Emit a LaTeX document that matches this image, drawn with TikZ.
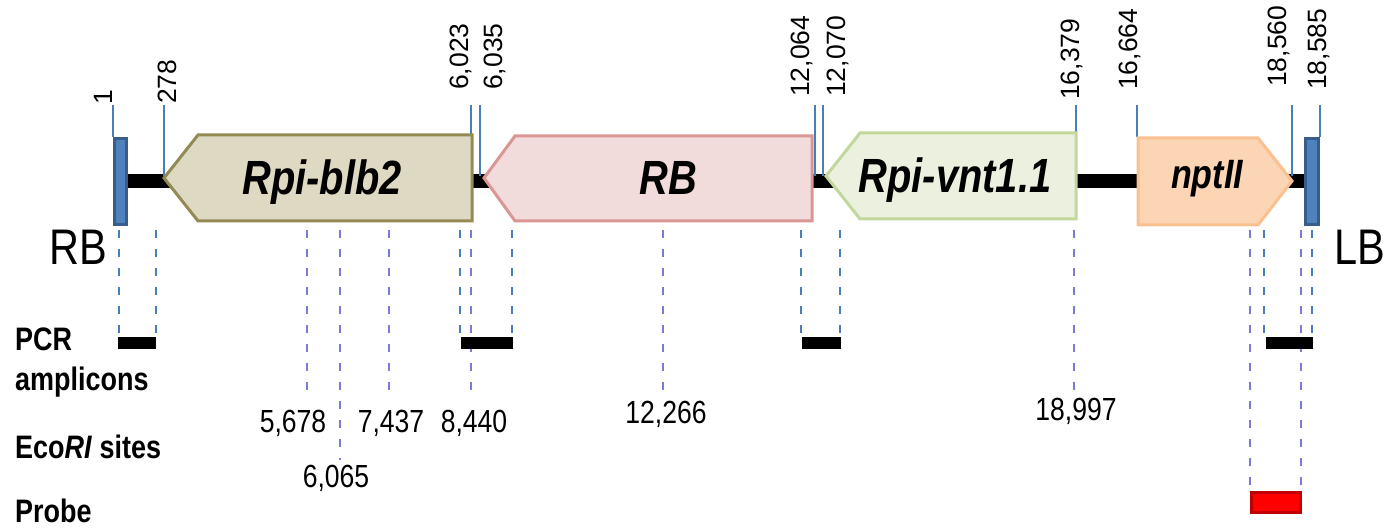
\documentclass[tikz,border=0pt]{standalone}
\usepackage{fontspec}
\setmainfont{Liberation Sans}[FakeStretch=0.83]
\newfontfamily\tickfont{Liberation Sans}
\definecolor{tickblue}{HTML}{4A7EBB}
\definecolor{ecopurple}{HTML}{7B7BD6}
\definecolor{bordfill}{HTML}{4F81BD}
\definecolor{borddraw}{HTML}{385D8A}
\definecolor{blbfill}{HTML}{DDD9C3}
\definecolor{blbdraw}{HTML}{948A54}
\definecolor{rbfill}{HTML}{F2DCDB}
\definecolor{rbdraw}{HTML}{D99694}
\definecolor{vntfill}{HTML}{EBF1DE}
\definecolor{vntdraw}{HTML}{C3D69B}
\definecolor{nptfill}{HTML}{FCD5B5}
\definecolor{nptdraw}{HTML}{FAC090}
\definecolor{probefill}{HTML}{FF0000}
\definecolor{probedraw}{HTML}{C00000}
\tikzset{
  tickline/.style={draw=tickblue, line width=1.3pt},
  pcrdash/.style={draw=tickblue, line width=2pt, dash pattern=on 8pt off 11pt},
  ecodash/.style={draw=ecopurple, line width=2pt, dash pattern=on 8pt off 11pt},
  ticklabel/.style={rotate=90, anchor=base west, inner sep=0pt, font=\tickfont\fontsize{26.5}{30}\selectfont},
  sitelabel/.style={anchor=base, inner sep=0pt, font=\fontsize{32}{36}\selectfont},
  genelabel/.style={anchor=base, inner sep=0pt, font=\bfseries\itshape\fontsize{48}{52}\selectfont},
  rowlabel/.style={anchor=base west, inner sep=0pt, font=\bfseries\fontsize{32.5}{36}\selectfont},
  bordtext/.style={anchor=base west, inner sep=0pt, font=\fontsize{50}{54}\selectfont},
  bordbox/.style={fill=bordfill, draw=borddraw, line width=3pt},
  genebox/.style={line width=3pt, line join=miter},
  amplicon/.style={fill=black},
}
\begin{document}
\begin{tikzpicture}[x=1pt,y=-1pt]
\useasboundingbox (0,0) rectangle (1386,529);

% backbone
\fill[black] (128,174) rectangle (1304,188);

% tick lines
\draw[tickline] (113,105) -- (113,137);
\draw[tickline] (164,105) -- (164,176);
\draw[tickline] (471,105) -- (471,134);
\draw[tickline] (480,105) -- (480,176);
\draw[tickline] (815,105) -- (815,176);
\draw[tickline] (823,105) -- (823,176);
\draw[tickline] (1076,105) -- (1076,132);
\draw[tickline] (1137,105) -- (1137,137);
\draw[tickline] (1292,105) -- (1292,176);
\draw[tickline] (1320,105) -- (1320,137);

% tick labels
\node[ticklabel] (t1) at (112,105) {1};
\node[ticklabel] (t278) at (176,104) {278};
\node[ticklabel] (t6023) at (468,90) {6,023};
\node[ticklabel] (t6035) at (502,90) {6,035};
\node[ticklabel] (t12064) at (809,97) {12,064};
\node[ticklabel] (t12070) at (845,97) {12,070};
\node[ticklabel] (t16379) at (1079,100) {16,379};
\node[ticklabel] (t16664) at (1137,90) {16,664};
\node[ticklabel] (t18560) at (1286,87) {18,560};
\node[ticklabel] (t18585) at (1326,90) {18,585};

% borders
\draw[bordbox] (114.5,138.5) rectangle (126.5,224.5);
\draw[bordbox] (1305.5,138.5) rectangle (1318.5,224.5);
\node[bordtext] (rbtxt) at (49,265) {RB};
\node[bordtext] (lbtxt) at (1334,265) {LB};

% genes
\draw[genebox, fill=blbfill, draw=blbdraw] (164,178) -- (198,135) -- (472,135) -- (472,221) -- (198,221) -- cycle;
\node[genelabel] (blb2) at (322,195) {Rpi-blb2};
\draw[genebox, fill=rbfill, draw=rbdraw] (484,178) -- (515,136) -- (812,136) -- (812,221) -- (515,221) -- cycle;
\node[genelabel] (rbgene) at (668,195) {RB};
\draw[genebox, fill=vntfill, draw=vntdraw] (826,176) -- (860,133) -- (1076,133) -- (1076,219) -- (860,219) -- cycle;
\node[genelabel] (vnt) at (955,193) {Rpi-vnt1.1};
\draw[genebox, fill=nptfill, draw=nptdraw] (1138,138) -- (1258,138) -- (1292,181) -- (1258,225) -- (1138,225) -- cycle;
\node[genelabel, font=\bfseries\itshape\fontsize{41}{44}\selectfont] (npt) at (1207,189) {nptII};

% PCR dashed lines
\foreach \x in {119,156,460,512,801,840,1264,1312}
  \draw[pcrdash] (\x,230) -- (\x,334);
% EcoRI dashed lines
\foreach \x/\y in {307/393,340/460,389/393,471/393,663/393,1074/393,1250/490,1301/490}
  \draw[ecodash] (\x,230) -- (\x,\y);

% PCR amplicons
\fill[amplicon] (118,337) rectangle (156,349);
\fill[amplicon] (461,337) rectangle (513,349);
\fill[amplicon] (802,337) rectangle (841,349);
\fill[amplicon] (1266,337) rectangle (1313,349);

% probe
\draw[fill=probefill, draw=probedraw, line width=3pt] (1251.5,492.5) rectangle (1300.5,512.5);

% site labels
\node[sitelabel] (s5678) at (293,432) {5,678};
\node[sitelabel] (s7437) at (391,432) {7,437};
\node[sitelabel] (s8440) at (474,432) {8,440};
\node[sitelabel] (s6065) at (336,487) {6,065};
\node[sitelabel] (s12266) at (666,423) {12,266};
\node[sitelabel] (s18997) at (1076,420) {18,997};

% row labels
\node[rowlabel] (pcr) at (15,350) {PCR};
\node[rowlabel] (ampl) at (15,390) {amplicons};
\node[rowlabel] (eco) at (15,458) {Eco\textit{RI} sites};
\node[rowlabel] (probe) at (15,522) {Probe};
\end{tikzpicture}
\end{document}
